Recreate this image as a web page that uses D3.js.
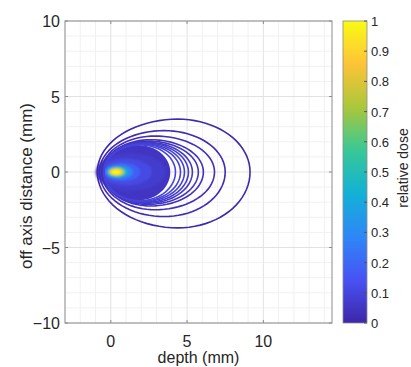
<!DOCTYPE html>
<html>
<head>
<meta charset="utf-8">
<script src="https://cdn.jsdelivr.net/npm/d3@7"></script>
<style>
  body { margin: 0; background: #fff; }
  text { font-family: "Liberation Sans", Arial, sans-serif; fill: #262626; }
</style>
</head>
<body>
<div id="chart"></div>
<script>
// axis ticks
var xTicks = [0, 5, 10];
var yTicks = [-10, -5, 0, 5, 10];
var cbTicks = [0, 0.1, 0.2, 0.3, 0.4, 0.5, 0.6, 0.7, 0.8, 0.9, 1];

// parula colormap anchors
var parulaStops = ["#3e26a8", "#4852f4", "#2e87f7", "#12b1d6", "#37c897", "#abc739", "#fec338", "#f9fb15"];

// contour lines (mm), outer to inner
var contourLevel  = [0.01, 0.02, 0.03, 0.04, 0.05, 0.06, 0.07, 0.08, 0.09, 0.10];
var contourLeft   = [-0.88, -0.74, -0.6, -0.53, -0.5, -0.48, -0.47, -0.46, -0.45, -0.45];
var contourRight  = [9.13, 7.5, 6.8, 6.07, 5.74, 5.35, 5.09, 4.83, 4.57, 4.24];
var contourTop    = [3.5, 2.74, 2.38, 2.14, 2.05, 1.98, 1.93, 1.88, 1.84, 1.8];
var contourBottom = [3.7, 2.95, 2.5, 2.25, 2.15, 2.08, 2.02, 1.97, 1.93, 1.9];
var contourCrest  = [4.4, 3.5, 2.9, 2.6, 2.4, 2.3, 2.2, 2.1, 2.0, 1.9];

// filled low dose region
var fillLevel = 0.05, fillLeft = -0.42, fillRight = 3.9, fillTop = 1.78, fillBottom = 1.88, fillCrest = 1.8;

// hot spot (relative dose, centre depth, radii in mm)
var spotLevel = [0.07, 0.11, 0.18, 0.28, 0.4, 0.55, 0.75, 0.9, 1.0];
var spotCx    = [1.3, 1.0, 0.75, 0.55, 0.45, 0.4, 0.38, 0.36, 0.34];
var spotRx    = [2.3, 1.7, 1.2, 0.9, 0.72, 0.6, 0.5, 0.4, 0.26];
var spotRy    = [1.25, 0.9, 0.62, 0.46, 0.37, 0.31, 0.26, 0.2, 0.13];

var W = 411, H = 367;
var plot = { left: 65, right: 332, top: 21, bottom: 323 };
var cb = { left: 343, right: 367 };

var svg = d3.select("#chart").append("svg")
  .attr("width", W)
  .attr("height", H);

var x = d3.scaleLinear().domain([-3, 14.5]).range([plot.left, plot.right]);
var y = d3.scaleLinear().domain([-10, 10]).range([plot.bottom, plot.top]);
var cy = d3.scaleLinear().domain([0, 1]).range([plot.bottom, plot.top]);

var parula = d3.scaleLinear()
  .domain(d3.range(parulaStops.length).map(function (i) { return i / (parulaStops.length - 1); }))
  .range(parulaStops)
  .interpolate(d3.interpolateRgb);

var defs = svg.append("defs");
defs.append("clipPath").attr("id", "clip")
  .append("rect")
  .attr("x", plot.left).attr("y", plot.top)
  .attr("width", plot.right - plot.left).attr("height", plot.bottom - plot.top);

defs.append("filter").attr("id", "blur")
  .attr("x", "-50%").attr("y", "-50%").attr("width", "200%").attr("height", "200%")
  .append("feGaussianBlur").attr("stdDeviation", 1.2);

// grid
var grid = svg.append("g");
var minorX = d3.range(-3, 15, 1).filter(function (d) { return d % 5 != 0; });
var minorY = d3.range(-10, 11, 1).filter(function (d) { return d % 5 != 0; });

grid.selectAll(".mx").data(minorX).enter().append("line")
  .attr("x1", function (d) { return x(d); }).attr("x2", function (d) { return x(d); })
  .attr("y1", plot.top).attr("y2", plot.bottom)
  .attr("stroke", "#f1f1f1");
grid.selectAll(".my").data(minorY).enter().append("line")
  .attr("y1", function (d) { return y(d); }).attr("y2", function (d) { return y(d); })
  .attr("x1", plot.left).attr("x2", plot.right)
  .attr("stroke", "#f1f1f1");
grid.selectAll(".gx").data(xTicks).enter().append("line")
  .attr("x1", function (d) { return x(d); }).attr("x2", function (d) { return x(d); })
  .attr("y1", plot.top).attr("y2", plot.bottom)
  .attr("stroke", "#e2e2e2");
grid.selectAll(".gy").data(yTicks).enter().append("line")
  .attr("y1", function (d) { return y(d); }).attr("y2", function (d) { return y(d); })
  .attr("x1", plot.left).attr("x2", plot.right)
  .attr("stroke", "#e2e2e2");

// egg shaped closed outline from its extents
function outline(left, right, top, bottom, crest) {
  var pts = [];
  var n = 40;
  for (var i = 0; i <= n; i++) {
    var t = Math.PI * i / n;            // left half, top to bottom
    pts.push([crest - (crest - left) * Math.sin(t), Math.cos(t) > 0 ? top * Math.cos(t) : bottom * Math.cos(t)]);
  }
  for (var j = 1; j < n; j++) {
    var s = Math.PI * j / n;            // right half, bottom to top
    pts.push([crest + (right - crest) * Math.sin(s), Math.cos(s) > 0 ? -bottom * Math.cos(s) : -top * Math.cos(s)]);
  }
  return pts;
}

var line = d3.line()
  .x(function (d) { return x(d[0]); })
  .y(function (d) { return y(d[1]); })
  .curve(d3.curveLinearClosed);

var dose = svg.append("g").attr("clip-path", "url(#clip)");

dose.append("path")
  .attr("d", line(outline(fillLeft, fillRight, fillTop, fillBottom, fillCrest)))
  .attr("fill", parula(fillLevel));

var spot = dose.append("g").attr("filter", "url(#blur)");
spot.selectAll("ellipse").data(spotLevel).enter().append("ellipse")
  .attr("cx", function (d, i) { return x(spotCx[i]); })
  .attr("cy", y(0))
  .attr("rx", function (d, i) { return x(spotRx[i]) - x(0); })
  .attr("ry", function (d, i) { return y(0) - y(spotRy[i]); })
  .attr("fill", function (d) { return parula(d); });

dose.selectAll(".contour").data(contourLevel).enter().append("path")
  .attr("class", "contour")
  .attr("d", function (d, i) {
    return line(outline(contourLeft[i], contourRight[i], contourTop[i], contourBottom[i], contourCrest[i]));
  })
  .attr("fill", "none")
  .attr("stroke", function (d) { return parula(d); })
  .attr("stroke-width", 1.6);

// axes box and ticks
var axisColor = "#8c8c8c";
svg.append("rect")
  .attr("x", plot.left).attr("y", plot.top)
  .attr("width", plot.right - plot.left).attr("height", plot.bottom - plot.top)
  .attr("fill", "none").attr("stroke", axisColor);

var tl = 3;
xTicks.forEach(function (d) {
  svg.append("line").attr("x1", x(d)).attr("x2", x(d)).attr("y1", plot.bottom).attr("y2", plot.bottom - tl).attr("stroke", axisColor);
  svg.append("line").attr("x1", x(d)).attr("x2", x(d)).attr("y1", plot.top).attr("y2", plot.top + tl).attr("stroke", axisColor);
});
yTicks.forEach(function (d) {
  svg.append("line").attr("y1", y(d)).attr("y2", y(d)).attr("x1", plot.left).attr("x2", plot.left + tl).attr("stroke", axisColor);
  svg.append("line").attr("y1", y(d)).attr("y2", y(d)).attr("x1", plot.right).attr("x2", plot.right - tl).attr("stroke", axisColor);
});

function fmt(d) { return d < 0 ? "\u2212" + Math.abs(d) : String(d); }

svg.selectAll(".xt").data(xTicks).enter().append("text")
  .attr("x", function (d) { return x(d); })
  .attr("y", 347)
  .attr("text-anchor", "middle")
  .attr("font-size", "16px")
  .text(fmt);

svg.selectAll(".yt").data(yTicks).enter().append("text")
  .attr("x", 60)
  .attr("y", function (d) { return y(d) + 6; })
  .attr("text-anchor", "end")
  .attr("font-size", "16px")
  .text(fmt);

svg.append("text")
  .attr("x", (plot.left + plot.right) / 2)
  .attr("y", 363)
  .attr("text-anchor", "middle")
  .attr("font-size", "16px")
  .text("depth (mm)");

svg.append("text")
  .attr("transform", "translate(32," + 186 + ") rotate(-90)")
  .attr("text-anchor", "middle")
  .attr("font-size", "17px")
  .text("off axis distance (mm)");

// colorbar
var grad = defs.append("linearGradient").attr("id", "cbgrad")
  .attr("x1", 0).attr("y1", 1).attr("x2", 0).attr("y2", 0);
grad.selectAll("stop").data(d3.range(0, 1.0001, 0.02)).enter().append("stop")
  .attr("offset", function (d) { return d; })
  .attr("stop-color", function (d) { return parula(d); });

svg.append("rect")
  .attr("x", cb.left).attr("y", plot.top)
  .attr("width", cb.right - cb.left).attr("height", plot.bottom - plot.top)
  .attr("fill", "url(#cbgrad)")
  .attr("stroke", axisColor).attr("stroke-width", 0.8);

svg.selectAll(".cbt").data(cbTicks).enter().append("line")
  .attr("x1", cb.right).attr("x2", cb.right - 3)
  .attr("y1", function (d) { return cy(d); }).attr("y2", function (d) { return cy(d); })
  .attr("stroke", "#555");

svg.selectAll(".cbl").data(cbTicks).enter().append("text")
  .attr("x", 371)
  .attr("y", function (d) { return cy(d) + 5; })
  .attr("font-size", "13px")
  .text(function (d) { return String(d); });

svg.append("text")
  .attr("transform", "translate(408," + 168 + ") rotate(-90)")
  .attr("text-anchor", "middle")
  .attr("font-size", "14px")
  .text("relative dose");
</script>
</body>
</html>
